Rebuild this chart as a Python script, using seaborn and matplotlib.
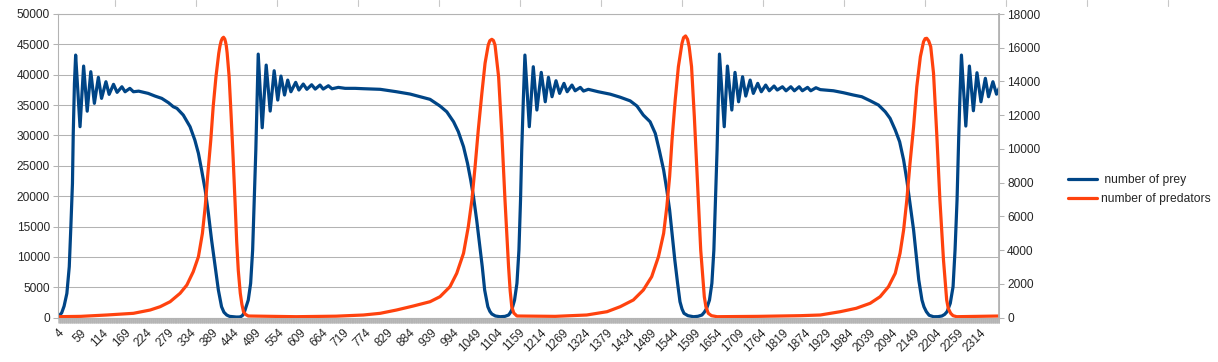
import numpy as np
import pandas as pd
import matplotlib
matplotlib.use('Agg')
import matplotlib.pyplot as plt
from matplotlib.lines import Line2D
from matplotlib.ticker import FixedLocator
import seaborn as sns

# prey population (time step, count)
prey_t = [4, 12, 18, 25, 31, 35, 39, 41, 44, 47, 58, 67, 76, 85, 94, 104, 112, 123, 131, 142, 151, 163, 171, 183, 192,
          205, 229, 246, 263, 280, 292, 301, 317, 334, 346, 355, 363, 372, 380, 388, 397, 405, 413, 419, 426, 433, 443,
          450, 458, 462, 466, 469,
          472, 480, 486, 491, 495, 499, 502, 505,
          515, 525, 535, 545, 554, 562, 571, 579, 587, 599, 607, 618, 627, 639, 648, 660, 668, 681, 690, 706, 723, 748,
          769, 811, 852, 886, 911, 936, 961, 978, 995, 1007, 1020, 1030, 1038, 1045, 1053, 1060, 1067, 1073, 1081, 1086,
          1091, 1100,
          1112, 1124, 1133, 1137, 1141, 1148, 1154, 1159, 1163, 1166, 1170, 1174,
          1185, 1195, 1204, 1215, 1225, 1233, 1242, 1252, 1261, 1272, 1280, 1292, 1300, 1313, 1321, 1333, 1358, 1388,
          1413, 1438, 1455, 1471, 1488, 1501, 1511, 1522, 1530, 1537, 1543, 1550, 1557, 1563, 1568, 1573, 1583, 1597,
          1608, 1618, 1624, 1630,
          1637, 1643, 1648, 1652, 1656, 1659, 1662,
          1674, 1682, 1693, 1701, 1710, 1720, 1728, 1739, 1747, 1758, 1767, 1778, 1787, 1799, 1807, 1820, 1829, 1841,
          1850, 1862, 1870, 1883, 1891, 1904, 1915, 1948, 1973, 1998, 2019, 2040, 2061, 2078, 2090, 2103, 2114, 2124,
          2132, 2140, 2149, 2156, 2162, 2170, 2175, 2181, 2188, 2199, 2210, 2220, 2227, 2233, 2241, 2248, 2253, 2258,
          2262, 2265, 2269,
          2280, 2289, 2299, 2308, 2318, 2329, 2337, 2348, 2357, 2364]
prey_n = [200, 800, 1900, 4000, 8400, 15000, 22100, 30350, 38580, 43240, 31440, 41430, 34000, 40500, 35290, 39570, 36110,
          38850, 36770, 38420, 37100, 38020, 37200, 37760, 37200,
          37300, 36930, 36490, 36110, 35390, 34730, 34470, 33360, 31440, 29250, 27060, 24310, 21020, 17180, 12790, 8400,
          4560, 1810, 900, 440, 220, 160,
          110, 120, 200, 400, 750,
          1270, 2900, 5660, 11140, 19370, 27600, 35830, 43400,
          31270, 41590, 34020, 40660, 35830, 39780, 36660, 39120, 37200, 38750, 37480, 38470, 37600, 38350, 37640, 38300,
          37640, 38190, 37690, 37920, 37760, 37760,
          37700, 37600, 37200, 36820, 36380, 35950, 34850, 33900, 32260, 30620, 28150, 25410, 22670, 19920, 16080, 12250,
          8400, 4560, 1810, 1050,
          610, 280,
          160, 220, 440, 800, 1270, 2900, 5660, 11140, 19370, 27600, 35830, 43240,
          31440, 41320, 34190, 40390, 35550, 39570, 36380, 39010, 36930, 38580, 37200, 38300, 37360, 37920, 37310, 37600,
          37200, 36800,
          36300, 35700, 34850, 33360, 32260, 30350, 27600, 24310, 21020, 17730, 13890, 9500, 5660, 2630, 1450, 720, 330,
          160,
          230, 440, 900, 1550,
          2900, 5660, 11140, 19370, 27600, 35830, 43400,
          31440, 41430, 34190, 40390, 35550, 39670, 36490, 39120, 36930, 38580, 37200, 38300, 37360, 38140, 37480, 38020,
          37360, 38020,
          37360, 38020, 37360, 37920, 37360, 37860, 37550, 37360, 37040, 36660, 36380, 35720, 35010, 33900, 32820, 30900,
          28970, 25960,
          22670, 18830, 14440, 10040, 6210, 2910, 1800, 990, 400, 160, 170, 280, 550, 990, 2370, 5100, 11140, 19370,
          29250, 35830, 43240,
          31550, 41430, 34070, 40330, 35550, 39410, 36380, 38850, 36800, 37800]

# predator population (time step, count)
pred_t = [4, 60, 125, 192, 234, 259, 284, 309, 326, 342, 355, 365, 372, 378, 386, 392, 399, 406, 409, 412, 415, 418, 421,
          423, 425, 427, 432, 437, 442, 447, 451, 455, 460, 464, 468, 473, 480,
          600, 700, 769, 811, 852, 894, 936, 961, 986, 1003, 1020, 1032, 1041, 1049, 1057, 1066, 1074, 1082, 1086, 1091,
          1095, 1099, 1108, 1116, 1124, 1133, 1137, 1141, 1146, 1154,
          1250, 1329, 1380, 1413, 1446, 1471, 1492, 1509, 1522, 1530, 1537, 1543, 1551, 1559, 1568, 1572, 1577, 1582,
          1586, 1592, 1599, 1607, 1615, 1624, 1628, 1634, 1642, 1656,
          1760, 1865, 1915, 1965, 2005, 2040, 2065, 2086, 2103, 2115, 2124, 2132, 2140, 2149, 2157, 2166, 2174, 2178,
          2182, 2187, 2192, 2199, 2207, 2215, 2224, 2232, 2236, 2242, 2248, 2257, 2364]
pred_n = [60, 80, 160, 260, 456, 652, 948, 1446, 1938, 2726, 3615, 5000, 6580, 8357, 10530, 12500, 14280, 15670, 16100,
          16400, 16560, 16620, 16520, 16350, 16100, 15700, 14300, 12000, 9500, 6800, 4500, 2800, 1450, 800, 360, 200, 100,
          60, 90, 160, 260, 456, 693, 948, 1245, 1837, 2632, 3817, 5394, 6976, 8950, 11125, 13300, 15080, 16160, 16420,
          16500, 16430, 16160, 14280, 10930, 6980, 3020, 1600, 652, 280, 100,
          80, 160, 356, 652, 1050, 1640, 2430, 3615, 5000, 6580, 8357, 10530, 12900, 14880, 16260, 16600, 16700, 16500,
          16060, 14880, 11910, 7970, 4010, 1245, 650, 260, 120, 60,
          80, 120, 160, 356, 557, 853, 1245, 1837, 2632, 3817, 5200, 6976, 9150, 11320, 13690, 15470, 16360, 16540,
          16560, 16400, 16060, 14490, 10930, 6980, 3420, 1050, 550, 260, 120, 60, 100]

x_ticks = list(range(4, 2315, 55))
left_ticks = list(range(0, 50001, 5000))
right_ticks = list(range(0, 18001, 2000))

prey_color = '#004586'
pred_color = '#ff420e'
grey = '#b3b3b3'

sns.set_style('white')
plt.rcParams['font.family'] = ['Liberation Sans', 'DejaVu Sans']
plt.rcParams['font.size'] = 8.6

df_prey = pd.DataFrame({'step': prey_t, 'count': prey_n})
df_pred = pd.DataFrame({'step': pred_t, 'count': pred_n})

fig = plt.figure(figsize=(12.18, 3.62), dpi=100)
ax = fig.add_axes([58.5 / 1218, 1 - 317.7 / 362, (999.3 - 58.5) / 1218, (317.7 - 14) / 362])
ax2 = ax.twinx()

sns.lineplot(data=df_prey, x='step', y='count', ax=ax, color=prey_color, lw=2.3, sort=False)
sns.lineplot(data=df_pred, x='step', y='count', ax=ax2, color=pred_color, lw=2.3, sort=False)

ax.set_xlim(4, 2364)
ax.set_ylim(0, 50000)
ax2.set_ylim(0, 18000)
ax.set_xlabel('')
ax.set_ylabel('')
ax2.set_ylabel('')

ax.set_xticks(x_ticks)
ax.set_xticklabels([str(v) for v in x_ticks], rotation=45, ha='right', rotation_mode='anchor')
ax.xaxis.set_minor_locator(FixedLocator(np.arange(4, 2365)))
ax.tick_params(axis='x', which='both', length=3.6, width=0.5, color=grey, pad=3, direction='out', bottom=True)
ax.set_yticks(left_ticks)
ax.set_yticklabels([str(v) for v in left_ticks])
ax.tick_params(axis='y', length=3.6, width=0.75, color=grey, pad=2.5, direction='out', left=True)
ax2.set_yticks(right_ticks)
ax2.set_yticklabels([str(v) for v in right_ticks])
ax2.tick_params(axis='y', length=3.6, width=0.75, color=grey, pad=2, direction='out', right=True)

ax.yaxis.grid(True, color=grey, lw=0.75)
ax.xaxis.grid(False)
ax.set_axisbelow(True)
for a in (ax, ax2):
    for s in a.spines.values():
        s.set_color(grey)
        s.set_linewidth(0.75)
ax2.spines['right'].set_linewidth(1.3)

handles = [Line2D([], [], color=prey_color, lw=2.3), Line2D([], [], color=pred_color, lw=2.3)]
fig.legend(handles, [' number of prey', 'number of predators'], loc='center left',
           bbox_to_anchor=(1068 / 1218, 1 - 189.5 / 362), frameon=False, handlelength=2.4,
           handletextpad=0.3, labelspacing=0.55, borderpad=0, borderaxespad=0, fontsize=8.7)

# spreadsheet column borders visible at the top edge of the screenshot
for k in range(14):
    xf = (115 + 81.0 * k) / 1218
    fig.add_artist(Line2D([xf, xf], [1, 1 - 6 / 362], transform=fig.transFigure, color='#c8c8c8', lw=0.8))

fig.savefig('out.png', dpi=100, facecolor='white')
